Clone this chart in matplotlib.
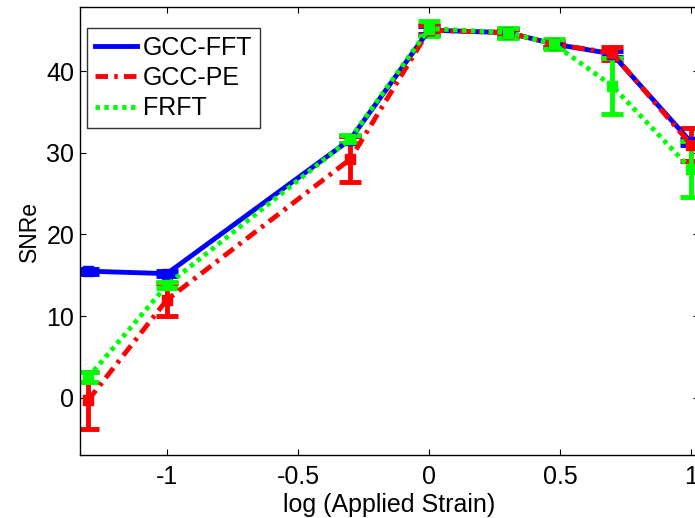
import matplotlib
matplotlib.use("Agg")
import matplotlib.pyplot as plt
from matplotlib.lines import Line2D

plt.rcParams['font.family'] = ['Liberation Sans', 'DejaVu Sans']
plt.rcParams['lines.scale_dashes'] = False

log_strain = [-1.301, -1.0, -0.301, 0.0, 0.301, 0.477, 0.699, 1.0]

fft_vals = [15.5, 15.2, 31.6, 45.0, 44.7, 43.3, 42.1, 31.3]
fft_err = [0.3, 0.3, 0.4, 0.5, 0.4, 0.4, 0.4, 0.4]

pe_vals = [-0.3, 12.0, 29.2, 45.0, 44.7, 43.3, 42.2, 31.0]
pe_err = [3.5, 2.0, 2.8, 0.6, 0.5, 0.4, 0.8, 2.0]

frft_vals = [2.5, 13.8, 31.7, 45.2, 44.7, 43.3, 38.2, 28.0]
frft_err = [0.6, 0.4, 0.5, 0.9, 0.6, 0.6, 3.4, 3.4]

series_names = ['GCC-FFT', 'GCC-PE', 'FRFT']
xticks = [-1, -0.5, 0, 0.5, 1]
yticks = [0, 10, 20, 30, 40]

W, H = 695, 518
fig = plt.figure(figsize=(W / 100, H / 100), dpi=100)
x0, x1 = -1.332, 1.03
ax_left = 80 / W
ax_bottom = (H - 455) / H
ax_height = (455 - 7.3) / H
ax_width = (x1 - x0) * 262 / W
ax = fig.add_axes([ax_left, ax_bottom, ax_width, ax_height])

blue = '#0000ff'
red = '#ff0000'
green = '#00ff00'
lw = 3.5
pe_ls = (0, (9, 4.5, 2.5, 4.5))
frft_ls = (0, (3.2, 3.2))

common = dict(lw=lw, marker='s', ms=7.5, capsize=8, capthick=3.5,
              elinewidth=3.5)
ax.errorbar(log_strain, fft_vals, yerr=fft_err, color=blue, ls='-',
            mec=blue, mfc=blue, **common)
ax.errorbar(log_strain, pe_vals, yerr=pe_err, color=red, ls=pe_ls,
            mec=red, mfc=red, **common)
ax.errorbar(log_strain, frft_vals, yerr=frft_err, color=green, ls=frft_ls,
            mec=green, mfc=green, **common)

ax.set_xlim(x0, x1)
ax.set_ylim(-7.0, 47.8)
ax.set_xticks(xticks)
ax.set_xticklabels(['-1', '-0.5', '0', '0.5', '1'])
ax.set_yticks(yticks)
ax.tick_params(direction='in', length=4, width=0.8, top=True, right=True,
               labelsize=18, colors='black')
ax.tick_params(axis='x', pad=7)
ax.tick_params(axis='y', pad=4)
for s in ax.spines.values():
    s.set_linewidth(1.0)
ax.set_xlabel('log (Applied Strain)', fontsize=18, labelpad=3)
ax.set_ylabel('SNRe', fontsize=16.5, labelpad=4)

handles = [
    Line2D([], [], color=blue, lw=lw, ls='-'),
    Line2D([], [], color=red, lw=lw, ls=pe_ls),
    Line2D([], [], color=green, lw=lw, ls=frft_ls),
]
leg = ax.legend(handles, series_names, loc='upper left',
                bbox_to_anchor=(7 / (ax_width * W), 1 - 21 / (ax_height * H)),
                borderaxespad=0, fontsize=18, frameon=True, fancybox=False,
                edgecolor='black', handlelength=1.7, handletextpad=0.25,
                labelspacing=0.25, borderpad=0.3)
leg.get_frame().set_linewidth(1.0)

fig.savefig('out.png', dpi=100)
